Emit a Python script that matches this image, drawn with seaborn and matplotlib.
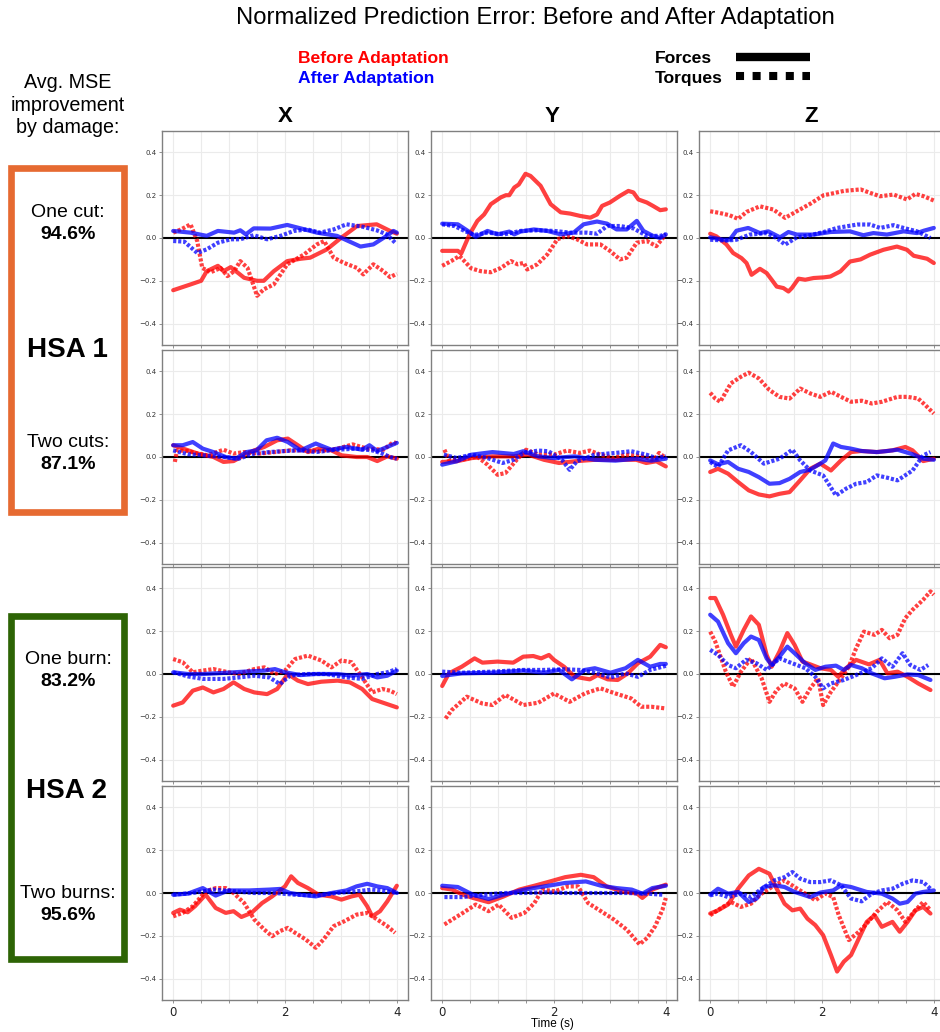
import numpy as np
import pandas as pd
import matplotlib
matplotlib.use("Agg")
import matplotlib.pyplot as plt
from matplotlib.lines import Line2D
from matplotlib.patches import Rectangle
import seaborn as sns

# ---- data: (time s, normalized error) ----
# row 1: HSA 1, one cut
cut1_x_force_before = [(0.0,-0.244),(0.31,-0.217),(0.5,-0.2),(0.6,-0.155),(0.8,-0.13),(0.9,-0.155),(1.03,-0.136),(1.27,-0.186),(1.5,-0.2),(1.62,-0.2),(1.8,-0.155),(2.04,-0.108),(2.28,-0.097),(2.45,-0.092),(2.75,-0.053),(3.0,0.0),(3.29,0.056),(3.64,0.064),(3.88,0.033),(4.0,0.02)]
cut1_x_torque_before = [(0.0,0.025),(0.14,0.04),(0.31,0.064),(0.43,-0.014),(0.52,-0.14),(0.67,-0.16),(0.85,-0.14),(0.97,-0.178),(1.09,-0.155),(1.2,-0.108),(1.33,-0.14),(1.5,-0.27),(1.62,-0.24),(1.8,-0.217),(2.04,-0.123),(2.34,-0.077),(2.57,-0.03),(2.7,-0.014),(2.87,-0.092),(3.05,-0.116),(3.29,-0.14),(3.4,-0.17),(3.58,-0.123),(3.76,-0.155),(3.88,-0.183),(4.0,-0.167)]
cut1_x_force_after = [(0.0,0.033),(0.31,0.025),(0.6,0.01),(0.8,0.033),(1.09,0.025),(1.2,0.036),(1.3,0.017),(1.44,0.045),(1.74,0.044),(2.04,0.061),(2.28,0.045),(2.57,0.025),(2.93,0.01),(3.35,-0.04),(3.58,-0.03),(3.76,0.0),(3.94,0.033),(4.0,0.025)]
cut1_x_torque_after = [(0.0,-0.014),(0.2,-0.017),(0.43,-0.07),(0.6,-0.053),(0.8,-0.022),(1.03,-0.006),(1.2,-0.006),(1.44,0.013),(1.68,-0.006),(1.92,0.01),(2.16,0.033),(2.4,0.04),(2.63,0.025),(2.87,0.04),(3.1,0.064),(3.4,0.052),(3.64,0.036),(3.82,0.017),(3.97,-0.022)]

cut1_y_force_before = [(0.0,-0.06),(0.28,-0.06),(0.34,-0.073),(0.49,0.017),(0.63,0.08),(0.75,0.11),(0.87,0.158),(1.05,0.19),(1.14,0.2),(1.2,0.2),(1.29,0.236),(1.37,0.25),(1.49,0.3),(1.58,0.29),(1.76,0.244),(1.94,0.158),(2.12,0.12),(2.29,0.114),(2.47,0.103),(2.65,0.095),(2.77,0.11),(2.86,0.15),(3.0,0.166),(3.18,0.197),(3.33,0.22),(3.42,0.213),(3.51,0.18),(3.66,0.166),(3.77,0.15),(3.9,0.13),(4.0,0.134)]
cut1_y_torque_before = [(0.0,-0.13),(0.16,-0.108),(0.31,-0.084),(0.52,-0.142),(0.69,-0.155),(0.87,-0.16),(1.05,-0.14),(1.23,-0.108),(1.35,-0.123),(1.46,-0.116),(1.52,-0.147),(1.7,-0.123),(1.88,-0.077),(2.06,-0.006),(2.23,0.01),(2.41,-0.006),(2.59,-0.03),(2.83,-0.03),(3.0,-0.06),(3.18,-0.1),(3.3,-0.092),(3.48,-0.022),(3.66,-0.014),(3.83,-0.038),(4.0,0.017)]
cut1_y_force_after = [(0.0,0.067),(0.28,0.064),(0.46,0.033),(0.6,0.005),(0.81,0.033),(0.99,0.017),(1.2,0.03),(1.29,0.017),(1.4,0.03),(1.64,0.04),(1.88,0.033),(2.12,0.017),(2.35,0.025),(2.53,0.064),(2.77,0.077),(2.95,0.067),(3.12,0.04),(3.3,0.04),(3.48,0.08),(3.6,0.033),(3.77,0.01),(3.9,0.0),(4.0,0.017)]
cut1_y_torque_after = [(0.0,0.064),(0.22,0.056),(0.4,0.033),(0.57,0.014),(0.81,0.025),(1.11,0.017),(1.4,0.033),(1.7,0.036),(2.0,0.033),(2.29,0.025),(2.59,0.025),(2.77,0.02),(2.95,0.056),(3.18,0.056),(3.42,0.045),(3.66,0.01),(3.9,0.01),(4.0,0.017)]

cut1_z_force_before = [(0.0,0.02),(0.11,0.008),(0.29,-0.03),(0.41,-0.07),(0.56,-0.094),(0.65,-0.117),(0.74,-0.172),(0.89,-0.144),(1.01,-0.164),(1.1,-0.195),(1.19,-0.227),(1.31,-0.234),(1.4,-0.25),(1.46,-0.234),(1.58,-0.19),(1.7,-0.195),(1.85,-0.187),(2.03,-0.184),(2.15,-0.18),(2.33,-0.156),(2.5,-0.11),(2.69,-0.1),(2.86,-0.078),(3.1,-0.055),(3.34,-0.04),(3.52,-0.055),(3.64,-0.083),(3.76,-0.09),(3.88,-0.097),(4.0,-0.117)]
cut1_z_torque_before = [(0.0,0.125),(0.17,0.117),(0.35,0.106),(0.5,0.089),(0.65,0.122),(0.89,0.148),(1.13,0.133),(1.34,0.094),(1.55,0.125),(1.79,0.16),(2.03,0.2),(2.15,0.206),(2.39,0.22),(2.69,0.227),(2.86,0.211),(3.04,0.195),(3.28,0.203),(3.52,0.18),(3.67,0.206),(3.82,0.195),(4.0,0.175)]
cut1_z_force_after = [(0.0,0.003),(0.23,-0.008),(0.35,-0.008),(0.47,0.034),(0.68,0.047),(0.89,0.023),(1.04,0.031),(1.25,0.003),(1.4,0.028),(1.55,0.016),(1.85,0.016),(2.15,0.028),(2.5,0.031),(2.74,0.013),(2.92,0.023),(3.16,0.016),(3.46,0.031),(3.7,0.023),(3.82,0.034),(4.0,0.047)]
cut1_z_torque_after = [(0.0,-0.008),(0.29,-0.012),(0.47,-0.008),(0.71,0.016),(1.01,0.023),(1.19,0.0),(1.34,-0.031),(1.55,0.003),(1.79,0.013),(2.03,0.028),(2.27,0.047),(2.63,0.063),(2.86,0.063),(3.04,0.047),(3.28,0.06),(3.46,0.047),(3.7,0.031),(3.94,0.0)]

# row 2: HSA 1, two cuts
cut2_x_force_before = [(0.0,0.055),(0.17,0.04),(0.44,0.016),(0.72,0.0),(0.9,-0.023),(1.08,-0.019),(1.27,0.008),(1.45,0.031),(1.63,0.047),(1.86,0.078),(2.05,0.086),(2.23,0.055),(2.41,0.023),(2.6,0.039),(2.83,0.031),(3.01,0.008),(3.28,0.0),(3.47,0.0),(3.65,-0.019),(3.83,0.003),(4.0,-0.008)]
cut2_x_torque_before = [(0.03,-0.023),(0.07,0.031),(0.26,0.028),(0.44,0.016),(0.62,0.008),(0.9,0.034),(1.08,0.016),(1.27,0.023),(1.54,0.016),(1.82,0.023),(2.09,0.031),(2.37,0.031),(2.65,0.028),(2.94,0.039),(3.21,0.059),(3.47,0.039),(3.76,0.034),(3.94,0.07),(4.0,0.063)]
cut2_x_force_after = [(0.0,0.055),(0.17,0.055),(0.35,0.07),(0.53,0.039),(0.72,0.023),(0.94,0.0),(1.12,-0.008),(1.31,0.023),(1.49,0.031),(1.67,0.078),(1.86,0.09),(2.05,0.07),(2.28,0.031),(2.55,0.063),(2.83,0.034),(3.1,0.047),(3.38,0.034),(3.51,0.055),(3.65,0.028),(3.83,0.047),(4.0,0.066)]
cut2_x_torque_after = [(0.0,0.031),(0.26,0.013),(0.53,0.008),(0.9,0.0),(1.17,-0.008),(1.45,0.016),(1.72,0.023),(2.0,0.028),(2.28,0.031),(2.55,0.023),(2.92,0.034),(3.28,0.039),(3.56,0.031),(3.74,0.016),(3.88,0.0),(4.0,-0.008)]

cut2_y_force_before = [(0.0,-0.023),(0.26,-0.02),(0.53,-0.005),(0.9,0.003),(1.28,0.003),(1.54,0.011),(1.82,-0.013),(2.09,-0.028),(2.37,-0.02),(2.73,-0.013),(3.1,-0.013),(3.47,-0.013),(3.65,-0.028),(3.83,-0.02),(4.0,-0.044)]
cut2_y_torque_before = [(0.04,0.034),(0.12,-0.013),(0.35,-0.013),(0.62,0.003),(0.81,-0.036),(0.99,-0.083),(1.13,-0.075),(1.31,-0.02),(1.5,0.034),(1.72,0.011),(2.0,0.011),(2.23,0.03),(2.46,0.019),(2.64,0.03),(2.83,0.011),(3.06,-0.005),(3.28,0.011),(3.56,0.003),(3.79,-0.013),(3.88,0.019),(4.0,-0.005)]
cut2_y_force_after = [(0.0,-0.036),(0.26,-0.02),(0.53,0.011),(0.9,0.023),(1.28,0.014),(1.45,0.027),(1.72,0.003),(2.0,-0.005),(2.37,0.003),(2.73,-0.013),(3.1,-0.017),(3.47,-0.008),(3.74,-0.017),(4.0,-0.008)]
cut2_y_torque_after = [(0.03,0.011),(0.26,-0.005),(0.53,0.011),(0.81,-0.005),(1.08,-0.028),(1.28,-0.013),(1.45,0.019),(1.72,0.03),(1.9,0.027),(2.14,-0.013),(2.28,-0.06),(2.41,-0.02),(2.73,0.011),(3.1,0.019),(3.38,0.027),(3.65,0.011),(3.83,-0.005),(4.0,0.003)]

cut2_z_force_before = [(0.0,-0.07),(0.14,-0.055),(0.32,-0.078),(0.5,-0.117),(0.69,-0.156),(0.87,-0.175),(1.06,-0.184),(1.24,-0.172),(1.42,-0.164),(1.61,-0.109),(1.79,-0.055),(1.97,-0.031),(2.16,-0.063),(2.34,-0.016),(2.52,0.023),(2.71,0.028),(2.98,0.023),(3.26,0.031),(3.49,0.047),(3.62,0.031),(3.81,-0.019),(4.0,-0.008)]
cut2_z_torque_before = [(0.0,0.3),(0.09,0.273),(0.18,0.258),(0.37,0.344),(0.55,0.375),(0.69,0.394),(0.87,0.367),(1.06,0.313),(1.24,0.281),(1.42,0.273),(1.61,0.32),(1.79,0.297),(1.97,0.281),(2.16,0.305),(2.34,0.281),(2.52,0.258),(2.71,0.263),(2.89,0.25),(3.07,0.258),(3.35,0.281),(3.53,0.281),(3.72,0.273),(3.85,0.242),(4.0,0.203)]
cut2_z_force_after = [(0.0,-0.016),(0.14,-0.034),(0.32,-0.023),(0.5,-0.055),(0.69,-0.07),(0.87,-0.094),(1.06,-0.125),(1.24,-0.122),(1.42,-0.102),(1.61,-0.07),(1.79,-0.059),(1.97,-0.031),(2.06,-0.016),(2.2,0.063),(2.34,0.047),(2.52,0.039),(2.71,0.028),(2.98,0.023),(3.17,0.028),(3.35,0.034),(3.62,0.013),(3.81,-0.008),(4.0,-0.013)]
cut2_z_torque_after = [(0.0,-0.023),(0.14,-0.047),(0.32,0.031),(0.55,0.055),(0.73,0.023),(0.96,-0.031),(1.24,-0.008),(1.47,0.034),(1.61,-0.016),(1.79,-0.063),(2.02,-0.086),(2.25,-0.18),(2.43,-0.148),(2.61,-0.125),(2.8,-0.117),(2.98,-0.086),(3.17,-0.097),(3.35,-0.109),(3.44,-0.094),(3.62,-0.063),(3.81,0.008),(3.94,0.023)]

# row 3: HSA 2, one burn
burn1_x_force_before = [(0.0,-0.148),(0.17,-0.133),(0.35,-0.078),(0.53,-0.063),(0.72,-0.086),(0.9,-0.07),(1.08,-0.039),(1.27,-0.07),(1.45,-0.086),(1.68,-0.094),(1.86,-0.07),(2.05,0.0),(2.23,-0.031),(2.41,-0.047),(2.65,-0.036),(2.94,-0.031),(3.16,-0.039),(3.38,-0.07),(3.56,-0.117),(3.74,-0.133),(4.0,-0.156)]
burn1_x_torque_before = [(0.0,0.07),(0.17,0.055),(0.35,0.008),(0.53,0.016),(0.72,0.023),(0.99,0.008),(1.17,0.0),(1.45,0.023),(1.63,0.031),(1.82,0.0),(2.0,0.016),(2.18,0.07),(2.41,0.086),(2.65,0.063),(2.83,0.031),(3.01,0.063),(3.19,0.055),(3.38,-0.016),(3.56,-0.086),(3.74,-0.07),(3.88,-0.078),(4.0,-0.094)]
burn1_x_force_after = [(0.0,0.008),(0.26,0.0),(0.53,0.0),(0.9,0.005),(1.27,0.011),(1.63,0.016),(1.82,0.023),(2.0,0.008),(2.28,-0.005),(2.55,0.0),(2.94,0.0),(3.19,-0.008),(3.47,0.0),(3.65,-0.016),(3.83,-0.008),(4.0,0.016)]
burn1_x_torque_after = [(0.0,0.008),(0.26,-0.011),(0.53,-0.023),(0.9,-0.023),(1.17,-0.016),(1.45,-0.008),(1.72,-0.016),(1.91,-0.047),(2.09,-0.008),(2.37,0.0),(2.74,0.0),(3.1,-0.016),(3.38,-0.023),(3.65,0.0),(3.83,0.008),(4.0,0.023)]

burn1_y_force_before = [(0.0,-0.056),(0.12,0.003),(0.35,0.034),(0.58,0.073),(0.72,0.053),(0.99,0.058),(1.27,0.053),(1.45,0.081),(1.63,0.084),(1.77,0.073),(1.91,0.089),(2.0,0.066),(2.18,0.034),(2.37,-0.013),(2.64,-0.025),(2.78,-0.005),(2.96,-0.025),(3.14,-0.028),(3.32,0.003),(3.5,0.05),(3.72,0.081),(3.9,0.136),(4.0,0.125)]
burn1_y_torque_before = [(0.06,-0.208),(0.17,-0.169),(0.44,-0.106),(0.72,-0.138),(0.9,-0.145),(1.13,-0.098),(1.45,-0.145),(1.72,-0.134),(2.0,-0.091),(2.28,-0.13),(2.55,-0.091),(2.83,-0.067),(3.1,-0.091),(3.38,-0.114),(3.56,-0.153),(3.74,-0.153),(4.0,-0.161)]
burn1_y_force_after = [(0.0,-0.009),(0.35,0.003),(0.9,0.006),(1.45,0.016),(1.82,0.006),(2.09,0.019),(2.32,-0.025),(2.55,0.019),(2.73,0.027),(3.01,0.006),(3.28,0.027),(3.5,0.066),(3.72,0.034),(3.9,0.047),(4.0,0.047)]
burn1_y_torque_after = [(0.0,0.011),(0.35,0.006),(0.9,0.011),(1.45,0.019),(1.82,0.019),(2.18,0.022),(2.46,0.019),(2.73,0.006),(3.01,-0.016),(3.28,0.003),(3.5,-0.013),(3.72,0.019),(4.0,0.038)]

burn1_z_force_before = [(0.0,0.355),(0.09,0.355),(0.23,0.277),(0.37,0.183),(0.46,0.128),(0.6,0.206),(0.73,0.269),(0.87,0.23),(1.01,0.089),(1.1,0.034),(1.24,0.105),(1.38,0.191),(1.51,0.136),(1.65,0.058),(1.79,0.045),(1.97,0.027),(2.16,0.019),(2.29,-0.013),(2.43,0.027),(2.61,0.066),(2.84,0.045),(3.03,0.066),(3.17,0.003),(3.35,0.011),(3.53,-0.013),(3.72,-0.044),(3.94,-0.075)]
burn1_z_torque_before = [(0.0,0.198),(0.09,0.152),(0.28,0.011),(0.41,-0.059),(0.55,0.011),(0.73,0.073),(0.92,-0.02),(1.06,-0.13),(1.19,-0.075),(1.33,-0.044),(1.51,-0.067),(1.65,-0.13),(1.79,-0.067),(1.93,-0.02),(2.02,-0.145),(2.16,-0.083),(2.34,-0.02),(2.48,0.034),(2.61,0.12),(2.75,0.198),(2.94,0.183),(3.07,0.206),(3.21,0.167),(3.35,0.183),(3.49,0.261),(3.62,0.3),(3.81,0.347),(3.94,0.386),(4.0,0.37)]
burn1_z_force_after = [(0.0,0.277),(0.14,0.245),(0.32,0.144),(0.46,0.097),(0.6,0.144),(0.73,0.175),(0.87,0.159),(1.01,0.073),(1.1,0.042),(1.24,0.081),(1.38,0.128),(1.51,0.097),(1.7,0.05),(1.88,0.019),(2.06,0.034),(2.25,0.039),(2.39,0.019),(2.52,0.042),(2.71,0.027),(2.89,0.003),(3.12,-0.02),(3.3,-0.013),(3.53,-0.002),(3.72,-0.005),(3.94,-0.028)]
burn1_z_torque_after = [(0.0,0.113),(0.14,0.089),(0.32,0.042),(0.46,0.027),(0.64,0.066),(0.83,0.05),(1.01,0.019),(1.24,0.073),(1.47,0.05),(1.7,0.027),(1.88,-0.013),(2.02,-0.067),(2.16,-0.044),(2.39,-0.028),(2.61,-0.005),(2.89,0.027),(3.07,0.073),(3.26,0.034),(3.44,0.097),(3.58,0.042),(3.76,0.019),(3.9,0.042)]

# row 4: HSA 2, two burns
burn2_x_force_before = [(0.0,-0.093),(0.12,-0.078),(0.26,-0.09),(0.39,-0.062),(0.58,-0.008),(0.76,-0.07),(0.94,-0.093),(1.08,-0.085),(1.22,-0.112),(1.4,-0.093),(1.59,-0.047),(1.77,-0.016),(2.0,0.031),(2.11,0.078),(2.23,0.047),(2.41,0.023),(2.6,-0.008),(2.83,-0.016),(3.01,-0.031),(3.19,-0.016),(3.33,-0.008),(3.47,-0.062),(3.56,-0.109),(3.7,-0.085),(3.83,-0.039),(4.0,0.034)]
burn2_x_torque_before = [(0.0,-0.109),(0.17,-0.093),(0.35,-0.062),(0.58,0.008),(0.76,0.023),(0.94,0.023),(1.08,0.0),(1.27,-0.047),(1.45,-0.124),(1.63,-0.171),(1.77,-0.202),(1.91,-0.178),(2.05,-0.163),(2.18,-0.186),(2.37,-0.217),(2.55,-0.256),(2.69,-0.217),(2.87,-0.155),(3.06,-0.132),(3.28,-0.101),(3.47,-0.093),(3.65,-0.124),(3.83,-0.155),(3.97,-0.186)]
burn2_x_force_after = [(0.0,-0.008),(0.26,-0.003),(0.53,0.023),(0.76,-0.012),(0.99,0.012),(1.36,0.012),(1.72,0.016),(1.91,0.019),(2.09,0.0),(2.28,-0.008),(2.55,-0.016),(2.83,0.0),(3.1,0.012),(3.28,0.031),(3.47,0.043),(3.65,0.031),(3.83,0.023),(4.0,0.0)]
burn2_x_torque_after = [(0.0,-0.008),(0.35,0.0),(0.72,0.016),(1.08,0.008),(1.45,0.0),(1.82,0.0),(2.18,-0.008),(2.55,-0.012),(2.92,0.0),(3.28,0.008),(3.56,0.016),(3.83,0.008),(4.0,0.0)]

burn2_y_force_before = [(0.0,0.023),(0.18,0.016),(0.37,-0.008),(0.55,-0.023),(0.83,-0.043),(1.1,-0.016),(1.38,0.016),(1.65,0.034),(1.93,0.054),(2.2,0.074),(2.48,0.085),(2.71,0.074),(2.94,0.031),(3.21,0.008),(3.49,-0.003),(3.58,-0.023),(3.76,0.016),(4.0,0.039)]
burn2_y_torque_before = [(0.04,-0.147),(0.18,-0.124),(0.37,-0.093),(0.6,-0.054),(0.83,-0.085),(1.01,-0.054),(1.24,-0.116),(1.47,-0.093),(1.65,-0.047),(1.79,0.016),(2.02,0.008),(2.25,0.031),(2.43,0.031),(2.61,-0.047),(2.84,-0.085),(3.07,-0.124),(3.3,-0.171),(3.53,-0.24),(3.67,-0.209),(3.81,-0.155),(3.94,-0.078),(4.0,-0.023)]
burn2_y_force_after = [(0.0,0.034),(0.28,0.028),(0.55,-0.008),(0.83,-0.028),(1.1,-0.008),(1.47,0.016),(1.83,0.031),(2.2,0.047),(2.57,0.054),(2.84,0.034),(3.12,0.023),(3.39,0.016),(3.58,-0.003),(3.76,0.023),(4.0,0.034)]
burn2_y_torque_after = [(0.04,-0.019),(0.37,-0.019),(0.73,-0.008),(1.1,0.0),(1.47,0.0),(1.83,0.003),(2.2,0.0),(2.57,0.0),(2.94,0.0),(3.3,0.0),(3.67,-0.003),(3.94,-0.008)]

burn2_z_force_before = [(0.0,-0.096),(0.14,-0.081),(0.32,-0.054),(0.5,0.02),(0.69,0.082),(0.87,0.113),(1.06,0.09),(1.19,0.02),(1.33,-0.05),(1.47,-0.081),(1.61,-0.073),(1.74,-0.12),(1.88,-0.15),(2.02,-0.197),(2.16,-0.29),(2.27,-0.367),(2.39,-0.321),(2.52,-0.29),(2.66,-0.212),(2.8,-0.135),(2.94,-0.104),(3.07,-0.158),(3.26,-0.135),(3.39,-0.181),(3.53,-0.135),(3.67,-0.081),(3.81,-0.065),(3.94,-0.096)]
burn2_z_torque_before = [(0.0,-0.104),(0.18,-0.073),(0.37,-0.042),(0.55,-0.065),(0.73,-0.05),(0.92,-0.003),(1.15,0.036),(1.33,0.059),(1.51,0.028),(1.7,-0.003),(1.88,-0.034),(2.06,-0.003),(2.2,-0.019),(2.3,-0.104),(2.48,-0.22),(2.66,-0.181),(2.8,-0.143),(2.98,-0.088),(3.17,-0.042),(3.35,-0.081),(3.49,-0.135),(3.67,-0.081),(3.81,-0.042),(3.94,-0.081)]
burn2_z_force_after = [(0.0,-0.008),(0.14,0.02),(0.32,-0.003),(0.5,0.005),(0.69,-0.042),(0.83,-0.026),(0.96,0.028),(1.15,0.036),(1.33,0.028),(1.51,0.005),(1.79,-0.019),(1.97,0.002),(2.2,0.012),(2.34,0.036),(2.52,0.028),(2.8,0.005),(3.07,-0.003),(3.26,-0.026),(3.39,-0.05),(3.53,-0.042),(3.67,-0.003),(3.81,0.005),(4.0,0.012)]
burn2_z_torque_after = [(0.0,-0.011),(0.14,-0.003),(0.32,-0.019),(0.55,-0.003),(0.73,-0.019),(0.92,0.02),(1.15,0.059),(1.33,0.074),(1.47,0.098),(1.61,0.067),(1.79,0.051),(1.97,0.051),(2.16,0.059),(2.34,0.036),(2.52,-0.026),(2.71,-0.039),(2.89,-0.003),(3.07,0.012),(3.26,0.02),(3.44,0.043),(3.62,0.059),(3.81,0.051),(3.94,0.02)]

damages = ["cut1", "cut2", "burn1", "burn2"]
axes_names = ["x", "y", "z"]
col_titles = ["X", "Y", "Z"]
yticks = [-0.4, -0.2, 0.0, 0.2, 0.4]
xticks = [0, 0.5, 1, 1.5, 2, 2.5, 3, 3.5, 4]
xticklabels = ["0", "", "", "", "2", "", "", "", "4"]

improvements = [("One cut:", "94.6%"), ("Two cuts:", "87.1%"),
                ("One burn:", "83.2%"), ("Two burns:", "95.6%")]

# ---- style ----
sns.set_style("whitegrid", {"grid.color": "#ebebeb", "axes.edgecolor": "#808080"})
plt.rcParams["font.family"] = ["DejaVu Sans"]
plt.rcParams["text.color"] = "black"
HFONT = ["Liberation Sans", "DejaVu Sans"]

W, H = 940, 1032
fig = plt.figure(figsize=(W / 100, H / 100), dpi=100)


def fx(x):
    return x / W


def fy(y):
    return 1 - y / H


col_left = [162, 431, 699]
row_top = [131, 350, 567, 786]
ax_w, ax_h = 246, 214

palette = {"Before": "#ff0000", "After": "#0000ff"}
dash_map = {"Forces": "", "Torques": (0.75, 0.45)}

for r, dmg in enumerate(damages):
    for c, an in enumerate(axes_names):
        ax = fig.add_axes([fx(col_left[c]), fy(row_top[r] + ax_h), ax_w / W, ax_h / H])
        parts = []
        for state in ["Before", "After"]:
            for kind, kname in [("Forces", "force"), ("Torques", "torque")]:
                pts = globals()[f"{dmg}_{an}_{kname}_{state.lower()}"]
                d = pd.DataFrame(pts, columns=["t", "v"])
                d["state"] = state
                d["kind"] = kind
                parts.append(d)
        df = pd.concat(parts, ignore_index=True)

        ax.axhline(0, color="black", lw=1.5, zorder=1.5)
        sns.lineplot(data=df, x="t", y="v", hue="state", style="kind",
                     hue_order=["Before", "After"], style_order=["Forces", "Torques"],
                     palette=palette, dashes=dash_map, estimator=None, sort=False,
                     lw=3, alpha=0.75, legend=False, ax=ax, zorder=2)

        ax.set_xlim(-0.2, 4.2)
        ax.set_ylim(-0.5, 0.5)
        ax.set_xlabel("")
        ax.set_ylabel("")
        ax.set_yticks(yticks)
        ax.set_yticklabels([f"{v:.1f}".replace("-", "\u2212") for v in yticks])
        ax.set_xticks(xticks)
        if r == 3:
            ax.set_xticklabels(xticklabels)
        else:
            ax.set_xticklabels([])
        ax.tick_params(axis="y", labelsize=5, length=2.5, width=0.6, pad=1.5,
                       colors="#808080", labelcolor="#333333", left=True)
        ax.tick_params(axis="x", labelsize=8.5, length=2.5, width=0.6, pad=2,
                       colors="#808080", labelcolor="#222222", bottom=True)
        ax.grid(True, lw=0.8)
        for sp in ax.spines.values():
            sp.set_linewidth(1.0)

# ---- figure text ----
fig.text(fx(535), fy(24), "Normalized Prediction Error: Before and After Adaptation",
         ha="center", va="baseline", fontsize=17.2, family=HFONT)
fig.text(fx(298), fy(62.7), "Before Adaptation", color="#ff0000", fontsize=12.6,
         fontweight="bold", family=HFONT, va="baseline")
fig.text(fx(298), fy(83.3), "After Adaptation", color="#0000ff", fontsize=12.6,
         fontweight="bold", family=HFONT, va="baseline")
fig.text(fx(655), fy(62.7), "Forces", fontsize=12.6, fontweight="bold", family=HFONT, va="baseline")
fig.text(fx(655), fy(83.3), "Torques", fontsize=12.6, fontweight="bold", family=HFONT, va="baseline")
fig.add_artist(Line2D([fx(736), fx(810)], [fy(57.3)] * 2, color="black", lw=6,
                      solid_capstyle="butt", transform=fig.transFigure))
fig.add_artist(Line2D([fx(736), fx(810)], [fy(76)] * 2, color="black", lw=5.8,
                      dashes=(1.0, 1.06), dash_capstyle="butt", transform=fig.transFigure))

for name, xc in zip(col_titles, [285, 552, 811]):
    fig.text(fx(xc), fy(121.7), name, ha="center", va="baseline", fontsize=16,
             fontweight="bold", family=HFONT)

for txt, yb in [("Avg. MSE", 88.3), ("improvement", 111), ("by damage:", 133)]:
    fig.text(fx(68), fy(yb), txt, ha="center", va="baseline", fontsize=14.2, family=HFONT)

fig.text(fx(67), fy(357), "HSA 1", ha="center", va="baseline", fontsize=20,
         fontweight="bold", family=HFONT)
fig.text(fx(67), fy(798), "HSA 2", ha="center", va="baseline", fontsize=20,
         fontweight="bold", family=HFONT)

label_base = [216.7, 446.7, 664, 898.3]
for (lab, val), yb in zip(improvements, label_base):
    fig.text(fx(68), fy(yb), lab, ha="center", va="baseline", fontsize=14, family=HFONT)
    fig.text(fx(68), fy(yb + 22), val, ha="center", va="baseline", fontsize=14,
             fontweight="bold", family=HFONT)

for top, bot, col in [(168.3, 512, "#e66a31"), (616.3, 958.7, "#2d6405")]:
    fig.add_artist(Rectangle((fx(11.3), fy(bot)), (123.7 - 11.3) / W, (bot - top) / H,
                             fill=False, ec=col, lw=4.8, transform=fig.transFigure))

fig.text(fx(552), fy(1026.7), "Time (s)", ha="center", va="baseline", fontsize=8.5, family=HFONT)

fig.savefig("out.png", dpi=100)
